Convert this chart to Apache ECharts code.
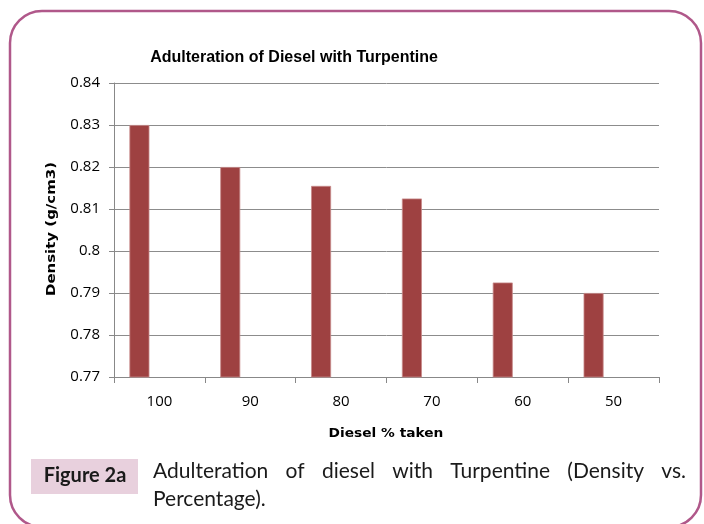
<!DOCTYPE html>
<html>
<head>
<meta charset="utf-8">
<script src="https://cdn.jsdelivr.net/npm/echarts@6/dist/echarts.min.js"></script>
<style>
  html, body { margin: 0; padding: 0; background: #fff; }
  #chart { width: 704px; height: 524px; }
</style>
</head>
<body>
<div id="chart"></div>
<script>
const categories = ["100", "90", "80", "70", "60", "50"];
const density = [0.83, 0.82, 0.8155, 0.8125, 0.7925, 0.79];
const emptySeries = [null, null, null, null, null, null];

const captionLine1 = "Adulteration of diesel with Turpentine (Density vs.";
const captionLine2 = "Percentage).";
const captionFont = "21px Lato";

// spread the words of the first caption line across the box (justified text)
function justifiedWords(line, font, x0, x1) {
  const ctx = document.createElement("canvas").getContext("2d");
  ctx.font = font;
  const words = line.split(" ");
  const widths = words.map((w) => ctx.measureText(w).width);
  const total = widths.reduce((a, b) => a + b, 0);
  const gap = (x1 - x0 - total) / (words.length - 1);
  let x = x0;
  return words.map((w, i) => {
    const item = { text: w, x };
    x += widths[i] + gap;
    return item;
  });
}

const chart = echarts.init(document.getElementById("chart"));

function render() {
  const captionStyle = {
    fontFamily: "Lato",
    fontSize: 21,
    fill: "#1a1a1a",
    align: "left",
    verticalAlign: "middle",
  };
  const line1 = justifiedWords(captionLine1, captionFont, 153, 686).map((w) => ({
    type: "text",
    x: w.x,
    y: 471,
    style: { ...captionStyle, text: w.text },
  }));

  chart.setOption({
    animation: false,
    title: {
      text: "Adulteration of Diesel with Turpentine",
      left: 289,
      top: 45,
      textAlign: "center",
      textStyle: {
        fontFamily: "Liberation Sans",
        fontWeight: "bold",
        fontSize: 16,
        color: "#000",
      },
    },
    grid: { left: 114, right: 45, top: 83, bottom: 147 },
    xAxis: {
      type: "category",
      data: categories,
      axisLine: { lineStyle: { color: "#888", width: 1 } },
      axisTick: { show: true, length: 6, lineStyle: { color: "#888" } },
      axisLabel: {
        fontFamily: "Open Sans",
        fontSize: 15,
        color: "#000",
        margin: 17,
      },
    },
    yAxis: {
      type: "value",
      min: 0.77,
      max: 0.84,
      interval: 0.01,
      axisLine: { show: true, lineStyle: { color: "#888", width: 1 } },
      axisTick: { show: true, length: 5, lineStyle: { color: "#888" } },
      splitLine: { lineStyle: { color: "#8c8c8c", width: 1 } },
      axisLabel: {
        fontFamily: "Open Sans",
        fontSize: 15,
        color: "#000",
        margin: 14,
        formatter: (v) => String(Math.round(v * 100) / 100),
      },
    },
    series: [
      {
        type: "bar",
        data: density,
        barWidth: 20,
        barGap: "100%",
        itemStyle: { color: "#9e4141", borderColor: "#c88a8a", borderWidth: 0.8 },
      },
      {
        type: "bar",
        data: emptySeries,
        barWidth: 20,
      },
    ],
    graphic: [
      {
        type: "rect",
        shape: { x: 10, y: 11, width: 691, height: 516, r: 32 },
        style: { fill: "none", stroke: "#b0588a", lineWidth: 2.5 },
        silent: true,
      },
      {
        // y axis title
        type: "text",
        x: 52,
        y: 229,
        rotation: Math.PI / 2,
        scaleX: 1.15,
        style: {
          text: "Density (g/cm3)",
          fontFamily: "DejaVu Sans",
          fontWeight: "bold",
          fontSize: 13,
          fill: "#000",
          align: "center",
          verticalAlign: "middle",
        },
      },
      {
        // x axis title
        type: "text",
        x: 386,
        y: 434,
        scaleX: 1.1,
        style: {
          text: "Diesel % taken",
          fontFamily: "DejaVu Sans",
          fontWeight: "bold",
          fontSize: 12.5,
          fill: "#000",
          align: "center",
          verticalAlign: "middle",
        },
      },
      {
        type: "rect",
        shape: { x: 31, y: 459, width: 107, height: 35 },
        style: { fill: "#e8d0dd" },
        silent: true,
      },
      {
        type: "text",
        x: 85,
        y: 476,
        style: {
          text: "Figure 2a",
          fontFamily: "Lato",
          fontWeight: "bold",
          fontSize: 20,
          fill: "#1a1a1a",
          align: "center",
          verticalAlign: "middle",
        },
      },
      ...line1,
      {
        type: "text",
        x: 153,
        y: 499,
        style: { ...captionStyle, text: captionLine2 },
      },
    ],
  });
}

if (document.fonts && document.fonts.load) {
  document.fonts.load(captionFont).then(render, render);
} else {
  render();
}
</script>
</body>
</html>
